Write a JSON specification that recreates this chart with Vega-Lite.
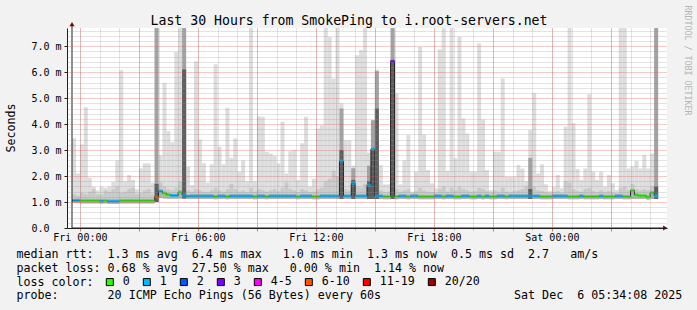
{
  "$schema": "https://vega.github.io/schema/vega-lite/v6.json",
  "width": 600,
  "height": 200,
  "autosize": "none",
  "padding": {"left": 67, "top": 28, "right": 30, "bottom": 82},
  "background": "#f2f2f2",
  "config": {
    "font": "DejaVu Sans Mono",
    "view": {"fill": "white", "stroke": null},
    "axis": {"labelFlush": false, "labelOverlap": false}
  },
  "datasets": {
    "smoke": [
      {"t":"2025-12-04T23:36:00Z","lo":0.96,"mx":3.46,"q":1.3,"d":1.13,"m":1.06,"l":"1"},
      {"t":"2025-12-04T23:48:00Z","lo":0.96,"mx":2.10,"q":1.25,"d":1.13,"m":1.06,"l":"1"},
      {"t":"2025-12-05T00:00:00Z","lo":0.95,"mx":3.22,"q":1.35,"d":1.12,"m":1.05,"l":"0"},
      {"t":"2025-12-05T00:12:00Z","lo":0.95,"mx":4.65,"q":1.3,"d":1.12,"m":1.05,"l":"0"},
      {"t":"2025-12-05T00:24:00Z","lo":0.95,"mx":1.94,"q":1.4,"d":1.12,"m":1.05,"l":"0"},
      {"t":"2025-12-05T00:36:00Z","lo":0.95,"mx":1.59,"q":1.5,"d":1.12,"m":1.05,"l":"0"},
      {"t":"2025-12-05T00:48:00Z","lo":0.95,"mx":1.44,"q":1.3,"d":1.12,"m":1.05,"l":"0"},
      {"t":"2025-12-05T01:00:00Z","lo":0.94,"mx":1.59,"q":1.3,"d":1.11,"m":1.04,"l":"1"},
      {"t":"2025-12-05T01:12:00Z","lo":0.95,"mx":1.55,"q":1.45,"d":1.12,"m":1.05,"l":"0"},
      {"t":"2025-12-05T01:24:00Z","lo":0.93,"mx":1.60,"q":1.4,"d":1.10,"m":1.03,"l":"1"},
      {"t":"2025-12-05T01:36:00Z","lo":0.93,"mx":1.78,"q":1.5,"d":1.10,"m":1.03,"l":"1"},
      {"t":"2025-12-05T01:48:00Z","lo":0.93,"mx":2.60,"q":1.6,"d":1.10,"m":1.03,"l":"1"},
      {"t":"2025-12-05T02:00:00Z","lo":0.95,"mx":6.07,"q":1.35,"d":1.12,"m":1.05,"l":"0"},
      {"t":"2025-12-05T02:12:00Z","lo":0.95,"mx":1.80,"q":1.4,"d":1.12,"m":1.05,"l":"0"},
      {"t":"2025-12-05T02:24:00Z","lo":0.95,"mx":2.04,"q":1.5,"d":1.12,"m":1.05,"l":"0"},
      {"t":"2025-12-05T02:36:00Z","lo":0.95,"mx":1.85,"q":1.55,"d":1.12,"m":1.05,"l":"0"},
      {"t":"2025-12-05T02:48:00Z","lo":0.95,"mx":1.49,"q":1.3,"d":1.12,"m":1.05,"l":"0"},
      {"t":"2025-12-05T03:00:00Z","lo":0.95,"mx":2.30,"q":1.35,"d":1.12,"m":1.05,"l":"0"},
      {"t":"2025-12-05T03:12:00Z","lo":0.95,"mx":2.49,"q":1.45,"d":1.12,"m":1.05,"l":"0"},
      {"t":"2025-12-05T03:24:00Z","lo":0.95,"mx":2.49,"q":1.5,"d":1.12,"m":1.05,"l":"0"},
      {"t":"2025-12-05T03:36:00Z","lo":0.95,"mx":1.74,"q":1.3,"d":1.12,"m":1.05,"l":"0"},
      {"t":"2025-12-05T03:48:00Z","lo":1.00,"mx":7.7,"q":1.6,"d":1.3,"m":1.20,"l":"6-10"},
      {"t":"2025-12-05T04:00:00Z","lo":1.16,"mx":2.80,"q":1.75,"d":1.49,"m":1.42,"l":"1"},
      {"t":"2025-12-05T04:12:00Z","lo":1.14,"mx":5.59,"q":1.6,"d":1.41,"m":1.34,"l":"0"},
      {"t":"2025-12-05T04:24:00Z","lo":1.13,"mx":3.73,"q":1.5,"d":1.35,"m":1.28,"l":"0"},
      {"t":"2025-12-05T04:36:00Z","lo":1.13,"mx":3.30,"q":1.45,"d":1.32,"m":1.25,"l":"1"},
      {"t":"2025-12-05T04:48:00Z","lo":1.13,"mx":6.78,"q":1.55,"d":1.32,"m":1.25,"l":"1"},
      {"t":"2025-12-05T05:00:00Z","lo":1.14,"mx":7.7,"q":1.8,"d":1.45,"m":1.38,"l":"0"},
      {"t":"2025-12-05T05:12:00Z","lo":1.14,"mx":7.7,"q":1.6,"d":1.34,"m":1.27,"l":"1"},
      {"t":"2025-12-05T05:24:00Z","lo":1.12,"mx":2.36,"q":1.45,"d":1.29,"m":1.22,"l":"1"},
      {"t":"2025-12-05T05:36:00Z","lo":1.12,"mx":1.65,"q":1.4,"d":1.3,"m":1.23,"l":"1"},
      {"t":"2025-12-05T05:48:00Z","lo":1.12,"mx":6.42,"q":1.5,"d":1.3,"m":1.23,"l":"1"},
      {"t":"2025-12-05T06:00:00Z","lo":1.12,"mx":3.41,"q":1.45,"d":1.3,"m":1.23,"l":"1"},
      {"t":"2025-12-05T06:12:00Z","lo":1.12,"mx":2.49,"q":1.4,"d":1.3,"m":1.23,"l":"1"},
      {"t":"2025-12-05T06:24:00Z","lo":1.12,"mx":1.74,"q":1.38,"d":1.3,"m":1.23,"l":"1"},
      {"t":"2025-12-05T06:36:00Z","lo":1.12,"mx":2.45,"q":1.45,"d":1.3,"m":1.23,"l":"1"},
      {"t":"2025-12-05T06:48:00Z","lo":1.11,"mx":6.30,"q":1.55,"d":1.28,"m":1.21,"l":"0"},
      {"t":"2025-12-05T07:00:00Z","lo":1.12,"mx":3.13,"q":1.45,"d":1.3,"m":1.23,"l":"1"},
      {"t":"2025-12-05T07:12:00Z","lo":1.12,"mx":2.45,"q":1.4,"d":1.3,"m":1.23,"l":"1"},
      {"t":"2025-12-05T07:24:00Z","lo":1.11,"mx":4.63,"q":1.5,"d":1.28,"m":1.21,"l":"0"},
      {"t":"2025-12-05T07:36:00Z","lo":1.12,"mx":2.70,"q":1.7,"d":1.3,"m":1.23,"l":"1"},
      {"t":"2025-12-05T07:48:00Z","lo":1.12,"mx":3.45,"q":1.5,"d":1.3,"m":1.23,"l":"1"},
      {"t":"2025-12-05T08:00:00Z","lo":1.12,"mx":2.17,"q":1.4,"d":1.3,"m":1.23,"l":"1"},
      {"t":"2025-12-05T08:12:00Z","lo":1.12,"mx":2.60,"q":1.45,"d":1.3,"m":1.23,"l":"1"},
      {"t":"2025-12-05T08:24:00Z","lo":1.12,"mx":1.80,"q":1.38,"d":1.3,"m":1.23,"l":"1"},
      {"t":"2025-12-05T08:36:00Z","lo":1.12,"mx":7.7,"q":1.55,"d":1.3,"m":1.23,"l":"1"},
      {"t":"2025-12-05T08:48:00Z","lo":1.11,"mx":1.80,"q":1.4,"d":1.28,"m":1.21,"l":"0"},
      {"t":"2025-12-05T09:00:00Z","lo":1.12,"mx":4.30,"q":1.5,"d":1.3,"m":1.23,"l":"1"},
      {"t":"2025-12-05T09:12:00Z","lo":1.12,"mx":4.28,"q":1.45,"d":1.3,"m":1.23,"l":"1"},
      {"t":"2025-12-05T09:24:00Z","lo":1.11,"mx":2.93,"q":1.4,"d":1.28,"m":1.21,"l":"0"},
      {"t":"2025-12-05T09:36:00Z","lo":1.12,"mx":2.87,"q":1.45,"d":1.3,"m":1.23,"l":"1"},
      {"t":"2025-12-05T09:48:00Z","lo":1.12,"mx":2.78,"q":1.5,"d":1.3,"m":1.23,"l":"1"},
      {"t":"2025-12-05T10:00:00Z","lo":1.12,"mx":2.49,"q":1.42,"d":1.3,"m":1.23,"l":"1"},
      {"t":"2025-12-05T10:12:00Z","lo":1.12,"mx":4.09,"q":1.55,"d":1.3,"m":1.23,"l":"1"},
      {"t":"2025-12-05T10:24:00Z","lo":1.12,"mx":2.10,"q":1.75,"d":1.3,"m":1.23,"l":"1"},
      {"t":"2025-12-05T10:36:00Z","lo":1.12,"mx":2.96,"q":1.5,"d":1.3,"m":1.23,"l":"1"},
      {"t":"2025-12-05T10:48:00Z","lo":1.12,"mx":3.00,"q":1.45,"d":1.3,"m":1.23,"l":"1"},
      {"t":"2025-12-05T11:00:00Z","lo":1.11,"mx":1.85,"q":1.38,"d":1.28,"m":1.21,"l":"0"},
      {"t":"2025-12-05T11:12:00Z","lo":1.12,"mx":3.26,"q":1.5,"d":1.3,"m":1.23,"l":"1"},
      {"t":"2025-12-05T11:24:00Z","lo":1.12,"mx":4.28,"q":1.45,"d":1.3,"m":1.23,"l":"1"},
      {"t":"2025-12-05T11:36:00Z","lo":1.12,"mx":1.60,"q":1.38,"d":1.3,"m":1.23,"l":"1"},
      {"t":"2025-12-05T11:48:00Z","lo":1.11,"mx":1.90,"q":1.4,"d":1.28,"m":1.21,"l":"0"},
      {"t":"2025-12-05T12:00:00Z","lo":1.11,"mx":3.83,"q":1.5,"d":1.28,"m":1.21,"l":"0"},
      {"t":"2025-12-05T12:12:00Z","lo":1.12,"mx":3.96,"q":1.55,"d":1.3,"m":1.23,"l":"1"},
      {"t":"2025-12-05T12:24:00Z","lo":1.12,"mx":7.7,"q":1.8,"d":1.3,"m":1.23,"l":"1"},
      {"t":"2025-12-05T12:36:00Z","lo":1.12,"mx":7.35,"q":1.9,"d":1.3,"m":1.23,"l":"1"},
      {"t":"2025-12-05T12:48:00Z","lo":1.12,"mx":5.75,"q":2.2,"d":1.3,"m":1.23,"l":"1"},
      {"t":"2025-12-05T13:00:00Z","lo":1.12,"mx":7.7,"q":2.0,"d":1.3,"m":1.23,"l":"1"},
      {"t":"2025-12-05T13:12:00Z","lo":1.12,"mx":4.8,"q":3.0,"d":1.3,"m":2.58,"l":"1"},
      {"t":"2025-12-05T13:24:00Z","lo":1.12,"mx":3.38,"q":1.5,"d":1.3,"m":1.23,"l":"1"},
      {"t":"2025-12-05T13:36:00Z","lo":1.12,"mx":3.38,"q":1.45,"d":1.3,"m":1.23,"l":"1"},
      {"t":"2025-12-05T13:48:00Z","lo":1.12,"mx":2.40,"q":2.0,"d":1.3,"m":1.72,"l":"1"},
      {"t":"2025-12-05T14:00:00Z","lo":1.12,"mx":6.65,"q":1.6,"d":1.3,"m":1.23,"l":"1"},
      {"t":"2025-12-05T14:12:00Z","lo":1.12,"mx":6.85,"q":1.55,"d":1.3,"m":1.23,"l":"1"},
      {"t":"2025-12-05T14:24:00Z","lo":1.12,"mx":7.7,"q":1.7,"d":1.3,"m":1.23,"l":"1"},
      {"t":"2025-12-05T14:36:00Z","lo":1.12,"mx":2.90,"q":2.0,"d":1.3,"m":1.65,"l":"1"},
      {"t":"2025-12-05T14:48:00Z","lo":1.12,"mx":4.15,"q":3.2,"d":1.3,"m":3.04,"l":"1"},
      {"t":"2025-12-05T15:00:00Z","lo":1.12,"mx":6.10,"q":2.0,"d":1.3,"m":1.23,"l":"1"},
      {"t":"2025-12-05T15:12:00Z","lo":1.12,"mx":2.42,"q":1.45,"d":1.3,"m":1.23,"l":"1"},
      {"t":"2025-12-05T15:24:00Z","lo":1.11,"mx":1.68,"q":1.38,"d":1.28,"m":1.21,"l":"0"},
      {"t":"2025-12-05T15:36:00Z","lo":1.11,"mx":1.68,"q":1.4,"d":1.28,"m":1.21,"l":"0"},
      {"t":"2025-12-05T15:48:00Z","lo":1.12,"mx":7.7,"q":2.0,"d":1.3,"m":6.42,"l":"3"},
      {"t":"2025-12-05T16:00:00Z","lo":1.11,"mx":5.18,"q":1.5,"d":1.28,"m":1.21,"l":"0"},
      {"t":"2025-12-05T16:12:00Z","lo":1.12,"mx":1.68,"q":1.4,"d":1.3,"m":1.23,"l":"1"},
      {"t":"2025-12-05T16:24:00Z","lo":1.12,"mx":2.60,"q":1.45,"d":1.3,"m":1.23,"l":"1"},
      {"t":"2025-12-05T16:36:00Z","lo":1.11,"mx":3.58,"q":1.5,"d":1.28,"m":1.21,"l":"0"},
      {"t":"2025-12-05T16:48:00Z","lo":1.12,"mx":1.40,"q":1.35,"d":1.3,"m":1.23,"l":"1"},
      {"t":"2025-12-05T17:00:00Z","lo":1.12,"mx":2.17,"q":1.42,"d":1.3,"m":1.23,"l":"1"},
      {"t":"2025-12-05T17:12:00Z","lo":1.11,"mx":6.97,"q":1.55,"d":1.28,"m":1.21,"l":"0"},
      {"t":"2025-12-05T17:24:00Z","lo":1.11,"mx":3.60,"q":1.45,"d":1.28,"m":1.21,"l":"0"},
      {"t":"2025-12-05T17:36:00Z","lo":1.11,"mx":2.23,"q":1.4,"d":1.28,"m":1.21,"l":"0"},
      {"t":"2025-12-05T17:48:00Z","lo":1.11,"mx":1.72,"q":1.38,"d":1.28,"m":1.21,"l":"0"},
      {"t":"2025-12-05T18:00:00Z","lo":1.12,"mx":1.53,"q":1.36,"d":1.3,"m":1.23,"l":"1"},
      {"t":"2025-12-05T18:12:00Z","lo":1.12,"mx":6.88,"q":1.5,"d":1.3,"m":1.23,"l":"1"},
      {"t":"2025-12-05T18:24:00Z","lo":1.11,"mx":7.7,"q":1.6,"d":1.28,"m":1.21,"l":"0"},
      {"t":"2025-12-05T18:36:00Z","lo":1.12,"mx":2.20,"q":1.4,"d":1.3,"m":1.23,"l":"1"},
      {"t":"2025-12-05T18:48:00Z","lo":1.12,"mx":7.7,"q":1.55,"d":1.3,"m":1.23,"l":"1"},
      {"t":"2025-12-05T19:00:00Z","lo":1.11,"mx":2.68,"q":1.45,"d":1.28,"m":1.21,"l":"0"},
      {"t":"2025-12-05T19:12:00Z","lo":1.11,"mx":7.36,"q":1.6,"d":1.28,"m":1.21,"l":"0"},
      {"t":"2025-12-05T19:24:00Z","lo":1.12,"mx":4.22,"q":1.5,"d":1.3,"m":1.23,"l":"1"},
      {"t":"2025-12-05T19:36:00Z","lo":1.12,"mx":3.64,"q":1.45,"d":1.3,"m":1.23,"l":"1"},
      {"t":"2025-12-05T19:48:00Z","lo":1.11,"mx":2.17,"q":1.4,"d":1.28,"m":1.21,"l":"0"},
      {"t":"2025-12-05T20:00:00Z","lo":1.11,"mx":2.17,"q":1.42,"d":1.28,"m":1.21,"l":"0"},
      {"t":"2025-12-05T20:12:00Z","lo":1.12,"mx":7.10,"q":1.55,"d":1.3,"m":1.23,"l":"1"},
      {"t":"2025-12-05T20:24:00Z","lo":1.11,"mx":4.18,"q":1.5,"d":1.28,"m":1.21,"l":"0"},
      {"t":"2025-12-05T20:36:00Z","lo":1.12,"mx":2.23,"q":1.42,"d":1.3,"m":1.23,"l":"1"},
      {"t":"2025-12-05T20:48:00Z","lo":1.11,"mx":1.46,"q":1.36,"d":1.28,"m":1.21,"l":"0"},
      {"t":"2025-12-05T21:00:00Z","lo":1.11,"mx":2.94,"q":1.45,"d":1.28,"m":1.21,"l":"0"},
      {"t":"2025-12-05T21:12:00Z","lo":1.12,"mx":2.94,"q":1.4,"d":1.3,"m":1.23,"l":"1"},
      {"t":"2025-12-05T21:24:00Z","lo":1.12,"mx":5.76,"q":1.55,"d":1.3,"m":1.23,"l":"1"},
      {"t":"2025-12-05T21:36:00Z","lo":1.11,"mx":1.97,"q":1.4,"d":1.28,"m":1.21,"l":"0"},
      {"t":"2025-12-05T21:48:00Z","lo":1.12,"mx":1.97,"q":1.38,"d":1.3,"m":1.23,"l":"1"},
      {"t":"2025-12-05T22:00:00Z","lo":1.12,"mx":1.97,"q":1.42,"d":1.3,"m":1.23,"l":"1"},
      {"t":"2025-12-05T22:12:00Z","lo":1.12,"mx":2.42,"q":1.45,"d":1.3,"m":1.23,"l":"1"},
      {"t":"2025-12-05T22:24:00Z","lo":1.12,"mx":2.29,"q":1.5,"d":1.3,"m":1.23,"l":"1"},
      {"t":"2025-12-05T22:36:00Z","lo":1.12,"mx":1.80,"q":1.6,"d":1.3,"m":1.23,"l":"1"},
      {"t":"2025-12-05T22:48:00Z","lo":1.12,"mx":3.77,"q":1.9,"d":1.3,"m":1.23,"l":"1"},
      {"t":"2025-12-05T23:00:00Z","lo":1.12,"mx":5.20,"q":1.6,"d":1.3,"m":1.23,"l":"1"},
      {"t":"2025-12-05T23:12:00Z","lo":1.12,"mx":2.10,"q":1.45,"d":1.3,"m":1.23,"l":"1"},
      {"t":"2025-12-05T23:24:00Z","lo":1.11,"mx":2.45,"q":1.42,"d":1.28,"m":1.21,"l":"0"},
      {"t":"2025-12-05T23:36:00Z","lo":1.11,"mx":1.68,"q":1.38,"d":1.28,"m":1.21,"l":"0"},
      {"t":"2025-12-05T23:48:00Z","lo":1.11,"mx":1.42,"q":1.35,"d":1.28,"m":1.21,"l":"0"},
      {"t":"2025-12-06T00:00:00Z","lo":1.12,"mx":1.59,"q":1.4,"d":1.3,"m":1.23,"l":"1"},
      {"t":"2025-12-06T00:12:00Z","lo":1.12,"mx":2.04,"q":1.42,"d":1.3,"m":1.23,"l":"1"},
      {"t":"2025-12-06T00:24:00Z","lo":1.12,"mx":1.53,"q":1.36,"d":1.3,"m":1.23,"l":"1"},
      {"t":"2025-12-06T00:36:00Z","lo":1.12,"mx":3.90,"q":1.8,"d":1.3,"m":1.23,"l":"1"},
      {"t":"2025-12-06T00:48:00Z","lo":1.11,"mx":7.7,"q":1.75,"d":1.28,"m":1.21,"l":"0"},
      {"t":"2025-12-06T01:00:00Z","lo":1.11,"mx":4.03,"q":1.5,"d":1.28,"m":1.21,"l":"0"},
      {"t":"2025-12-06T01:12:00Z","lo":1.11,"mx":2.27,"q":1.42,"d":1.28,"m":1.21,"l":"0"},
      {"t":"2025-12-06T01:24:00Z","lo":1.12,"mx":1.85,"q":1.4,"d":1.3,"m":1.23,"l":"1"},
      {"t":"2025-12-06T01:36:00Z","lo":1.11,"mx":2.29,"q":1.5,"d":1.28,"m":1.21,"l":"0"},
      {"t":"2025-12-06T01:48:00Z","lo":1.11,"mx":5.15,"q":1.55,"d":1.28,"m":1.21,"l":"0"},
      {"t":"2025-12-06T02:00:00Z","lo":1.11,"mx":2.17,"q":1.42,"d":1.28,"m":1.21,"l":"0"},
      {"t":"2025-12-06T02:12:00Z","lo":1.11,"mx":1.85,"q":1.38,"d":1.28,"m":1.21,"l":"0"},
      {"t":"2025-12-06T02:24:00Z","lo":1.12,"mx":2.17,"q":1.45,"d":1.3,"m":1.23,"l":"1"},
      {"t":"2025-12-06T02:36:00Z","lo":1.11,"mx":1.59,"q":1.38,"d":1.28,"m":1.21,"l":"0"},
      {"t":"2025-12-06T02:48:00Z","lo":1.11,"mx":2.04,"q":1.42,"d":1.28,"m":1.21,"l":"0"},
      {"t":"2025-12-06T03:00:00Z","lo":1.11,"mx":1.72,"q":1.36,"d":1.28,"m":1.21,"l":"0"},
      {"t":"2025-12-06T03:12:00Z","lo":1.12,"mx":1.46,"q":1.35,"d":1.3,"m":1.23,"l":"1"},
      {"t":"2025-12-06T03:24:00Z","lo":1.12,"mx":7.7,"q":1.55,"d":1.3,"m":1.23,"l":"1"},
      {"t":"2025-12-06T03:36:00Z","lo":1.11,"mx":7.7,"q":1.6,"d":1.28,"m":1.21,"l":"0"},
      {"t":"2025-12-06T03:48:00Z","lo":1.11,"mx":2.29,"q":1.45,"d":1.28,"m":1.21,"l":"0"},
      {"t":"2025-12-06T04:00:00Z","lo":1.12,"mx":2.36,"q":1.7,"d":1.51,"m":1.44,"l":"0"},
      {"t":"2025-12-06T04:12:00Z","lo":1.12,"mx":2.58,"q":1.5,"d":1.34,"m":1.27,"l":"0"},
      {"t":"2025-12-06T04:24:00Z","lo":1.12,"mx":2.29,"q":1.45,"d":1.31,"m":1.24,"l":"0"},
      {"t":"2025-12-06T04:36:00Z","lo":1.12,"mx":2.81,"q":1.5,"d":1.31,"m":1.24,"l":"0"},
      {"t":"2025-12-06T04:48:00Z","lo":1.10,"mx":2.29,"q":1.45,"d":1.26,"m":1.19,"l":"0"},
      {"t":"2025-12-06T05:00:00Z","lo":1.12,"mx":2.87,"q":1.6,"d":1.43,"m":1.36,"l":"0"},
      {"t":"2025-12-06T05:12:00Z","lo":1.12,"mx":7.7,"q":1.7,"d":1.31,"m":1.24,"l":"1"}
    ],
    "heavy": [
      {"t":"2025-12-05T03:48:00Z","lo":1.0,"a":7.7,"b":1.7},
      {"t":"2025-12-05T05:12:00Z","lo":1.14,"a":7.7,"b":6.1},
      {"t":"2025-12-05T13:12:00Z","lo":1.12,"a":4.6,"b":3.0},
      {"t":"2025-12-05T13:48:00Z","lo":1.12,"a":2.3,"b":1.85},
      {"t":"2025-12-05T14:36:00Z","lo":1.12,"a":2.4,"b":1.8},
      {"t":"2025-12-05T14:48:00Z","lo":1.12,"a":4.15,"b":3.0},
      {"t":"2025-12-05T15:00:00Z","lo":1.12,"a":6.04,"b":4.6},
      {"t":"2025-12-05T15:48:00Z","lo":1.12,"a":7.7,"b":6.45},
      {"t":"2025-12-05T22:48:00Z","lo":1.12,"a":2.7,"b":1.5},
      {"t":"2025-12-06T05:12:00Z","lo":1.12,"a":7.7,"b":1.6}
    ],
    "marks": [{"k": "up", "x": 1764891360000, "y": 7.85}, {"k": "right", "x": 1764999960000, "y": 0}]
  },
  "layer": [
    {
      "data": {"name": "smoke"},
      "mark": {"type": "bar", "color": "#dddddd", "width": 4, "xOffset": 2},
      "encoding": {
        "x": {"field": "t", "type": "temporal",
          "scale": {"type": "utc", "nice": false, "domain": [1764891360000, 1764999360000]},
          "axis": {"orient": "bottom", "grid": true, "gridColor": "#8f8f8f", "gridOpacity": 0.5, "gridDash": [1, 1],
            "values": [1764892800000,1764896400000,1764900000000,1764903600000,1764907200000,1764910800000,1764914400000,1764918000000,1764921600000,1764925200000,1764928800000,1764932400000,1764936000000,1764939600000,1764943200000,1764946800000,1764950400000,1764954000000,1764957600000,1764961200000,1764964800000,1764968400000,1764972000000,1764975600000,1764979200000,1764982800000,1764986400000,1764990000000,1764993600000,1764997200000],
            "labels": false, "domain": false, "ticks": true, "tickSize": 2, "tickColor": "#8f8f8f", "tickOpacity": 0.6, "title": null, "zindex": 1}},
        "y": {"field": "lo", "type": "quantitative", "scale": {"domain": [0, 7.7], "nice": false},
          "axis": {"orient": "left", "grid": true, "gridColor": "#8f8f8f", "gridOpacity": 0.5, "gridDash": [1, 1], "values": [0.2,0.4,0.6,0.8,1.2,1.4,1.6,1.8,2.2,2.4,2.6,2.8,3.2,3.4,3.6,3.8,4.2,4.4,4.6,4.8,5.2,5.4,5.6,5.8,6.2,6.4,6.6,6.8,7.2,7.4,7.6], "labels": false, "ticks": false, "domain": false, "title": null, "zindex": 1}},
        "y2": {"field": "mx"}
      }
    },
    {
      "data": {"name": "smoke"},
      "mark": {"type": "bar", "color": "#c9c9c9", "width": 4, "xOffset": 2},
      "encoding": {
        "x": {"field": "t", "type": "temporal",
          "axis": {"orient": "bottom", "grid": true, "gridColor": "#de4f4f", "gridOpacity": 0.6, "gridDash": [1, 1],
            "values": [1764892800000,1764903600000,1764914400000,1764925200000,1764936000000,1764946800000,1764957600000,1764968400000,1764979200000,1764990000000],
            "labels": false, "domain": false, "ticks": true, "tickSize": 3, "tickColor": "#de4f4f", "tickOpacity": 0.7, "title": null, "zindex": 1}},
        "y": {"field": "lo", "type": "quantitative",
          "axis": {"orient": "left", "grid": true, "gridColor": "#de4f4f", "gridOpacity": 0.6, "gridDash": [1, 1], "values": [1, 2, 3, 4, 5, 6, 7], "labels": false, "ticks": false, "domain": false, "title": null, "zindex": 1}},
        "y2": {"field": "q"}
      }
    },
    {
      "data": {"name": "smoke"},
      "mark": {"type": "bar", "color": "#b0b0b0", "width": 4, "xOffset": 2},
      "encoding": {
        "x": {"field": "t", "type": "temporal",
          "axis": {
            "orient": "bottom", "grid": false,
            "values": [1764892800000,1764914400000,1764936000000,1764957600000,1764979200000],
            "labelExpr": "utcFormat(datum.value, '%a %H:%M')",
            "labelFont": "DejaVu Sans Mono", "labelFontSize": 10, "labelColor": "black", "labelBaseline": "alphabetic", "labelPadding": 12.7, "labelAlign": "center",
            "ticks": true, "tickSize": 0, "domain": true, "domainColor": "#202020", "zindex": 2,
            "title": [
              "median rtt:\u00a0\u00a01.3 ms avg\u00a0\u00a06.4 ms max\u00a0\u00a0\u00a01.0 ms min\u00a0\u00a01.3 ms now\u00a0\u00a00.5 ms sd\u00a0\u00a02.7\u00a0\u00a0\u00a0am/s",
              "packet loss: 0.68 % avg\u00a0\u00a027.50 % max\u00a0\u00a0\u00a00.00 % min\u00a0\u00a01.14 % now",
              "loss color:",
              "probe:\u00a0\u00a0\u00a0\u00a0\u00a0\u00a0\u00a020 ICMP Echo Pings (56 Bytes) every 60s\u00a0\u00a0\u00a0\u00a0\u00a0\u00a0\u00a0\u00a0\u00a0\u00a0\u00a0\u00a0\u00a0\u00a0\u00a0\u00a0\u00a0\u00a0\u00a0Sat Dec\u00a0\u00a06 05:34:08 2025"
            ],
            "titleFont": "DejaVu Sans Mono", "titleFontSize": 11.65, "titleFontWeight": "normal", "titleColor": "black",
            "titleAlign": "left", "titleAnchor": "start", "titleBaseline": "alphabetic", "titleX": -51, "titleY": 29.3, "titleLineHeight": 13.9, "titleAngle": 0
          }},
        "y": {"field": "lo", "type": "quantitative",
          "axis": {
            "orient": "left", "grid": false, "values": [0, 1, 2, 3, 4, 5, 6, 7],
            "labelExpr": "datum.value == 0 ? '0.0' : format(datum.value, '.1f') + ' m'",
            "labelFont": "DejaVu Sans Mono", "labelFontSize": 10, "labelColor": "black", "labelAlign": "left", "labelPadding": 33,
            "ticks": true, "tickSize": 3, "tickColor": "#202020", "domain": true, "domainColor": "#202020", "zindex": 2,
            "title": "Seconds", "titleFont": "DejaVu Sans Mono", "titleFontSize": 11.65, "titleFontWeight": "normal", "titleColor": "black",
            "titleX": -56, "titleY": 99.5, "titleAngle": 270, "titleAlign": "center", "titleBaseline": "middle"
          }},
        "y2": {"field": "d"}
      }
    },
    {
      "data": {"name": "heavy"},
      "mark": {"type": "bar", "color": "#a3a3a3", "width": 4, "xOffset": 2},
      "encoding": {
        "x": {"field": "t", "type": "temporal", "axis": null},
        "y": {"field": "lo", "type": "quantitative", "axis": null},
        "y2": {"field": "a"}
      }
    },
    {
      "data": {"name": "heavy"},
      "mark": {"type": "bar", "color": "#5e5e5e", "width": 4, "xOffset": 2},
      "encoding": {
        "x": {"field": "t", "type": "temporal", "axis": null},
        "y": {"field": "lo", "type": "quantitative", "axis": null},
        "y2": {"field": "b"}
      }
    },
    {
      "data": {"name": "smoke"},
      "mark": {"type": "line", "interpolate": "step-after", "color": "#202020", "strokeWidth": 1},
      "encoding": {
        "x": {"field": "t", "type": "temporal", "axis": null},
        "y": {"field": "m", "type": "quantitative", "axis": null}
      }
    },
    {
      "data": {"name": "smoke"},
      "mark": {"type": "tick", "orient": "horizontal", "thickness": 3, "xOffset": 2},
      "encoding": {
        "x": {"field": "t", "type": "temporal", "axis": null},
        "y": {"field": "m", "type": "quantitative", "axis": null},
        "size": {"value": 4},
        "color": {"field": "l", "type": "nominal",
          "scale": {"domain": ["0", "1", "2", "3", "4-5", "6-10", "11-19", "20/20"], "range": ["#26ff00", "#00b8ff", "#0059ff", "#7e00ff", "#ff00ff", "#ff5500", "#ff0000", "#a10000"]},
          "legend": {
            "orient": "none", "legendX": 37, "legendY": 248, "direction": "horizontal", "title": null,
            "labelFont": "DejaVu Sans Mono", "labelFontSize": 11.65, "labelColor": "black", "labelOffset": 7, "columnPadding": 11,
            "symbolType": "square", "symbolSize": 49, "symbolStrokeColor": "black", "symbolStrokeWidth": 1, "symbolOpacity": 1
          }}
      }
    },
    {
      "data": {"name": "marks"},
      "transform": [{"filter": "datum.k == 'up'"}],
      "mark": {"type": "rule", "color": "#202020", "strokeWidth": 1},
      "encoding": {
        "x": {"field": "x", "type": "temporal", "axis": null},
        "y": {"field": "y", "type": "quantitative", "axis": null},
        "y2": {"datum": 0}
      }
    },
    {
      "data": {"name": "marks"},
      "transform": [{"filter": "datum.k == 'right'"}],
      "mark": {"type": "rule", "color": "#202020", "strokeWidth": 1},
      "encoding": {
        "x": {"field": "x", "type": "temporal", "axis": null},
        "x2": {"datum": 1764891360000},
        "y": {"field": "y", "type": "quantitative", "axis": null}
      }
    },
    {
      "data": {"name": "marks"},
      "transform": [{"filter": "datum.k == 'up'"}],
      "mark": {"type": "point", "shape": "triangle-up", "filled": true, "color": "#7f0000", "size": 25, "opacity": 1},
      "encoding": {
        "x": {"field": "x", "type": "temporal",
          "axis": {"orient": "top", "labels": false, "ticks": false, "domain": false, "grid": false,
            "title": "Last 30 Hours from SmokePing to i.root-servers.net",
            "titleX": 281.5, "titleY": -3.7, "titleAlign": "center", "titleBaseline": "alphabetic", "titleAngle": 0,
            "titleFont": "DejaVu Sans Mono", "titleFontSize": 13.2, "titleFontWeight": "normal", "titleColor": "black"}},
        "y": {"field": "y", "type": "quantitative",
          "axis": {"orient": "right", "title": "RRDTOOL / TOBI OETIKER", "labels": false, "ticks": false, "domain": false, "grid": false,
            "titleAngle": 90, "titleX": 19.5, "titleY": 32, "titleFont": "DejaVu Sans Mono", "titleFontSize": 8.3, "titleFontWeight": "normal", "titleColor": "#b4b4b4", "titleAlign": "center", "titleBaseline": "middle"}}
      }
    },
    {
      "data": {"name": "marks"},
      "transform": [{"filter": "datum.k == 'right'"}],
      "mark": {"type": "point", "shape": "triangle-right", "filled": true, "color": "#7f0000", "size": 25, "opacity": 1},
      "encoding": {
        "x": {"field": "x", "type": "temporal", "axis": null},
        "y": {"field": "y", "type": "quantitative", "axis": null}
      }
    }
  ],
  "resolve": {"axis": {"x": "independent", "y": "independent"}}
}
